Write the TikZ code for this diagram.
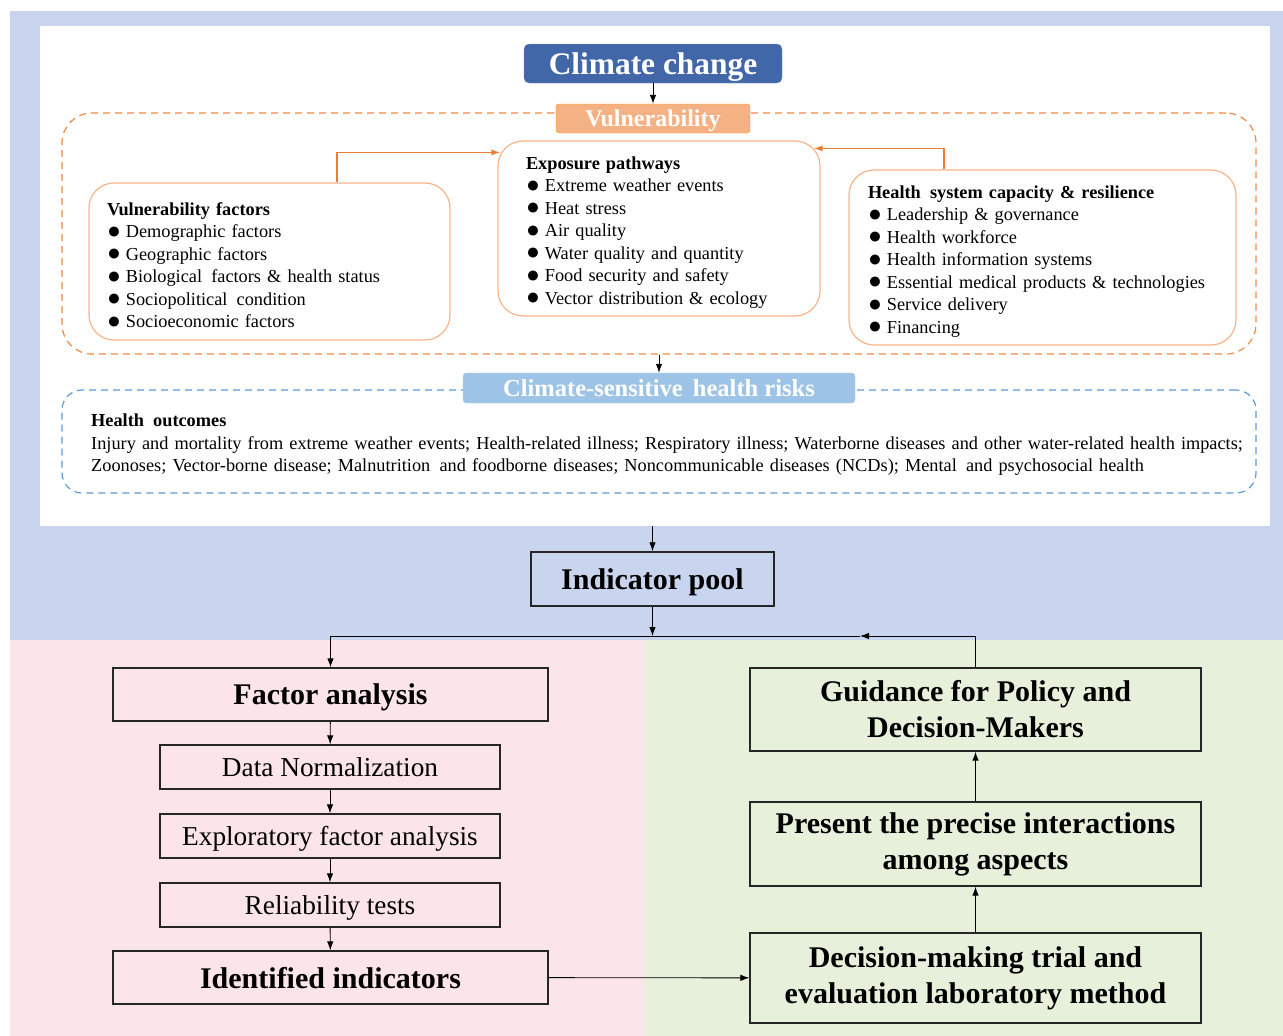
\documentclass[tikz,border=0pt]{standalone}
\usepackage{fontspec}
\setmainfont{Liberation Serif}
\usetikzlibrary{arrows.meta,positioning}

\definecolor{bgblue}{RGB}{201,213,238}
\definecolor{bgpink}{RGB}{251,229,232}
\definecolor{bggreen}{RGB}{230,240,218}
\definecolor{ccblue}{RGB}{65,103,168}
\definecolor{csblue}{RGB}{157,195,230}
\definecolor{dashblue}{RGB}{91,155,213}
\definecolor{vulorange}{RGB}{244,177,131}
\definecolor{lineorange}{RGB}{237,125,49}
\definecolor{boxorange}{RGB}{248,180,135}

\newcommand{\bul}{\smash{\raisebox{-0.5pt}{\fontsize{23}{23}\selectfont ●}}\hspace{5pt}}
\newcommand{\fsz}[2]{\fontsize{#1}{#2}\selectfont}

\tikzset{
  titlebox/.style={rounded corners=5pt, inner sep=0pt, text=white, text depth=0pt},
  listbox/.style={draw=boxorange, line width=1.2pt, rounded corners=25pt, inner ysep=0pt, align=left, font=\fsz{18.3}{22.5},
    execute at begin node={\rule{0pt}{20pt}}},
  framebox/.style={dashed, line width=1.2pt, dash pattern=on 7pt off 5pt, inner sep=0pt},
  flowbox/.style={draw=black!85, line width=1.3pt, inner sep=0pt, align=center},
  boldstep/.style={flowbox, font=\fsz{30}{36}\bfseries},
  plainstep/.style={flowbox, text depth=0pt, font=\fsz{27.3}{30}},
  orangearrow/.style={draw=lineorange, line width=1.2pt, -{Latex[length=9pt,width=6pt]}},
  link/.style={line width=0.9pt},
}

\begin{document}
\begin{tikzpicture}[x=1pt,y=-1pt,>={Latex[length=9pt,width=6.5pt]}]
\useasboundingbox (0,0) rectangle (1283,1036);
% backgrounds
\fill[bgblue] (10,11) rectangle (1283,640);
\fill[bgpink] (10,640) rectangle (645,1036);
\fill[bggreen] (645,640) rectangle (1283,1036);
\node[fill=white, minimum width=1230pt, minimum height=500pt, inner sep=0pt] (panel) at (655,276) {};

% vulnerability part
\node[framebox, draw=lineorange!90, rounded corners=30pt, minimum width=1194pt, minimum height=241pt] (vframe) at (659,233.5) {};
\node[titlebox, fill=ccblue, draw=ccblue!70, minimum width=258pt, minimum height=39pt, font=\fsz{31.4}{31}\bfseries] (cc) at (653,63.5) {Climate change};
\node[titlebox, rounded corners=3pt, fill=vulorange, draw=orange!80!yellow, minimum width=194pt, minimum height=29pt, font=\fsz{24}{24}\bfseries] (vul) at (653,118.5) {Vulnerability};
\draw[link,->] (cc) -- (vul);

\node[listbox, inner xsep=18pt, text width=325pt, minimum height=157pt] (vf) at (269.5,261.5) {%
  {\bfseries Vulnerability factors}\\
  \bul Demographic factors\\
  \bul Geographic factors\\
  \bul Biological\, factors \& health status\\
  \bul Sociopolitical\, condition\\
  \bul Socioeconomic factors};
\node[listbox, inner xsep=28pt, text width=266pt, minimum height=175pt] (ep) at (659,228.5) {%
  {\bfseries Exposure pathways}\\
  \bul Extreme weather events\\
  \bul Heat stress\\
  \bul Air quality\\
  \bul Water quality and quantity\\
  \bul Food security and safety\\
  \bul Vector distribution \& ecology};
\node[listbox, inner xsep=19pt, text width=349pt, minimum height=175pt] (hs) at (1042.5,257.5) {%
  {\bfseries Health\, system capacity \& resilience}\\
  \bul Leadership \& governance\\
  \bul Health workforce\\
  \bul Health information systems\\
  \bul Essential medical products \& technologies\\
  \bul Service delivery\\
  \bul Financing};
\draw[orangearrow] ([xshift=67.5pt]vf.north) |- ([shift={(3,12)}]ep.north west);
\draw[orangearrow] ([xshift=-98.5pt]hs.north) |- ([shift={(-7,8)}]ep.north east);

% health risks part
\node[framebox, draw=dashblue, rounded corners=20pt, minimum width=1194pt, minimum height=103pt] (bframe) at (659,441.5) {};
\node[titlebox, rounded corners=3pt, fill=csblue, draw=csblue!70!white, minimum width=392pt, minimum height=30pt, font=\fsz{24.5}{24}\bfseries] (cs) at (659,388) {Climate-sensitive\, health risks};
\draw[link,->] (vframe.south) -- (cs.north);
\node[anchor=west, inner sep=0pt, text width=1170pt, align=left, font=\fsz{18.3}{22.5}] (ho) at (91,445) {%
  {\bfseries Health\, outcomes}\\
  Injury and mortality from extreme weather events; Health-related illness; Respiratory illness; Waterborne diseases and other water-related health impacts;\\
  Zoonoses; Vector-borne disease; Malnutrition\, and foodborne diseases; Noncommunicable diseases (NCDs); Mental\, and psychosocial health};

% indicator pool
\node[flowbox, line width=1.5pt, text depth=0pt, minimum width=243pt, minimum height=54pt, font=\fsz{30}{30}\bfseries] (ip) at (652.5,579) {Indicator pool};
\draw[link,->] (ip.north |- panel.south) -- (ip.north);
\coordinate (jn) at (652.5,636);
\coordinate (back) at (860,636);

% factor analysis side
\node[boldstep, text depth=0pt, minimum width=435pt, minimum height=53pt] (fa) at (330.5,694.5) {Factor analysis};
\node[plainstep, minimum width=340pt, minimum height=44pt] (dn) at (330,767) {Data Normalization};
\node[plainstep, minimum width=340pt, minimum height=44pt] (ef) at (330,836) {Exploratory factor analysis};
\node[plainstep, minimum width=340pt, minimum height=44pt] (rt) at (330,905) {Reliability tests};
\node[boldstep, text depth=0pt, minimum width=435pt, minimum height=53pt] (ii) at (330.5,977.5) {Identified indicators};

% DEMATEL side
\node[boldstep, minimum width=451pt, minimum height=83pt] (gd) at (975.5,709.5) {Guidance for Policy and\\Decision-Makers};
\node[boldstep, minimum width=451pt, minimum height=84pt] (pr) at (975.5,844) {Present the precise interactions\\among aspects};
\node[boldstep, minimum width=451pt, minimum height=90pt] (dm) at (975.5,978) {Decision-making trial and\\evaluation laboratory method};

\draw[link,->] (ip) -- (jn);
\draw[link,->] (jn) -| (fa.north);
\draw[link,->] (gd.north) |- (back);
\draw[link] (back) -- (jn);
\draw[link,->] (fa) -- (dn);
\draw[link,->] (dn) -- (ef);
\draw[link,->] (ef) -- (rt);
\draw[link,->] (rt) -- (ii);
\draw[link,->] (ii) -- (dm);
\draw[link,->] (dm) -- (pr);
\draw[link,->] (pr) -- (gd);
\end{tikzpicture}
\end{document}
